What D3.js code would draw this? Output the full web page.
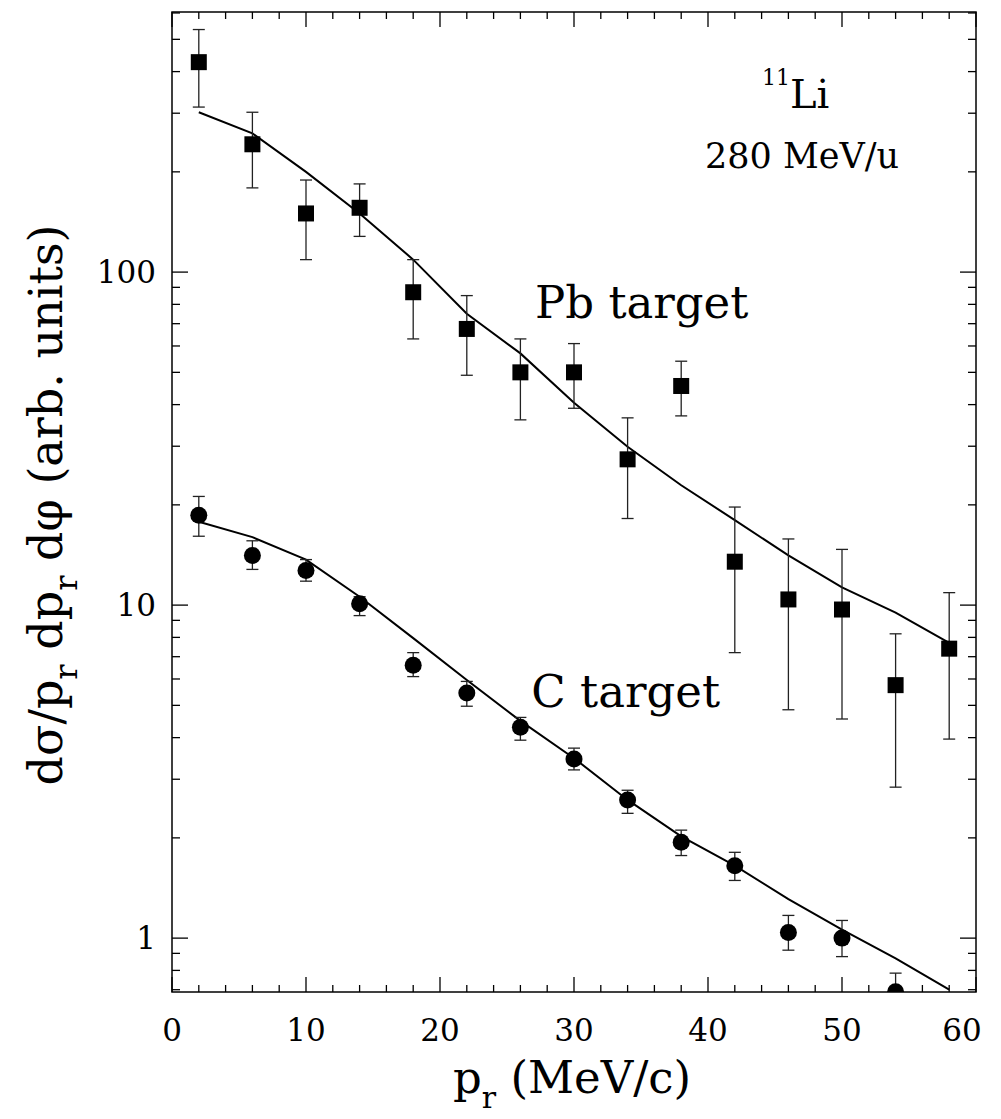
<!DOCTYPE html>
<html>
<head>
<meta charset="utf-8">
<script src="https://cdn.jsdelivr.net/npm/d3@7"></script>
<style>
  body { margin: 0; background: #fff; }
  text { font-family: "DejaVu Serif", "Liberation Serif", serif; fill: #000; }
</style>
</head>
<body>
<div id="chart"></div>
<script>
// momentum values (MeV/c)
var pr = [2, 6, 10, 14, 18, 22, 26, 30, 34, 38, 42, 46, 50, 54, 58];

// Pb target data, error limits and calculation
var pbVal = [427, 242, 150, 156, 87, 67.5, 50, 50, 27.4, 45.5, 13.5, 10.4, 9.7, 5.75, 7.4];
var pbHi  = [535, 302, 189, 184, 109, 85, 63, 61, 36.5, 54, 19.7, 15.8, 14.7, 8.2, 10.9];
var pbLo  = [313, 179, 109, 128, 63, 49, 36, 39, 18.2, 37, 7.2, 4.85, 4.55, 2.84, 3.96];
var pbCalc = [302, 261, 200, 150, 109, 75, 57, 40.5, 29.9, 22.9, 18, 14.1, 11.3, 9.5, 7.7];

// C target data (last point sits on the axis)
var cX   = [2, 6, 10, 14, 18, 22, 26, 30, 34, 38, 42, 46, 50, 54];
var cVal = [18.6, 14.1, 12.7, 10.1, 6.6, 5.45, 4.3, 3.45, 2.6, 1.94, 1.65, 1.04, 1.0, 0.69];
var cHi  = [21.2, 15.6, 13.7, 10.6, 7.2, 5.9, 4.6, 3.72, 2.78, 2.11, 1.81, 1.17, 1.13, 0.785];
var cLo  = [16.1, 12.8, 11.8, 9.3, 6.1, 4.97, 3.93, 3.2, 2.37, 1.77, 1.49, 0.92, 0.88, 0.6];
var cCalc = [17.8, 16.0, 13.7, 10.6, 7.96, 5.96, 4.49, 3.47, 2.6, 2.02, 1.65, 1.31, 1.06, 0.87, 0.70];

var xTicks = [0, 10, 20, 30, 40, 50, 60];
var yTicks = [1, 10, 100];

var W = 1001, H = 1119;
var pL = 172, pR = 976, pT = 12, pB = 992;

var svg = d3.select("#chart").append("svg")
    .attr("width", W)
    .attr("height", H);

var x = d3.scaleLinear().domain([0, 60]).range([pL, pR]);
var y = d3.scaleLog().domain([0.689, 604]).range([pB, pT]);

// clip so points at the bottom get cut by the frame
svg.append("defs").append("clipPath").attr("id", "clip")
    .append("rect")
    .attr("x", pL).attr("y", pT)
    .attr("width", pR - pL).attr("height", pB - pT);

// frame
svg.append("rect")
    .attr("x", pL).attr("y", pT)
    .attr("width", pR - pL).attr("height", pB - pT)
    .attr("fill", "none")
    .attr("stroke", "#000")
    .attr("stroke-width", 1.5);

// ticks, inward on all four sides
var xMinor = d3.range(0, 61, 2);
var yMinor = [];
[0.1, 1, 10, 100].forEach(function (d) {
  for (var k = 1; k < 10; k++) {
    var v = d * k;
    if (v >= 0.689 && v <= 604) yMinor.push(v);
  }
});

var ticks = svg.append("g").attr("stroke", "#000").attr("stroke-width", 1.3);

xMinor.forEach(function (d) {
  var len = (d % 10 == 0) ? 15 : 7;
  ticks.append("line").attr("x1", x(d)).attr("x2", x(d))
      .attr("y1", pB).attr("y2", pB - len);
  ticks.append("line").attr("x1", x(d)).attr("x2", x(d))
      .attr("y1", pT).attr("y2", pT + len);
});

yMinor.forEach(function (d) {
  var major = yTicks.indexOf(Math.round(d * 1000) / 1000) >= 0;
  var len = major ? 16 : 8;
  ticks.append("line").attr("x1", pL).attr("x2", pL + len)
      .attr("y1", y(d)).attr("y2", y(d));
  ticks.append("line").attr("x1", pR).attr("x2", pR - len)
      .attr("y1", y(d)).attr("y2", y(d));
});

// tick labels
svg.append("g").selectAll("text")
    .data(xTicks)
    .enter().append("text")
    .attr("x", function (d) { return x(d) - (d == 60 ? 14 : 0); })
    .attr("y", 1041)
    .attr("text-anchor", "middle")
    .style("font-size", "31px")
    .text(function (d) { return d; });

svg.append("g").selectAll("text")
    .data(yTicks)
    .enter().append("text")
    .attr("x", 156)
    .attr("y", function (d) { return y(d) + 11; })
    .attr("text-anchor", "end")
    .style("font-size", "31px")
    .text(function (d) { return d; });

// axis titles
var xt = svg.append("text")
    .attr("x", 572)
    .attr("y", 1093)
    .attr("text-anchor", "middle")
    .style("font-size", "45px");
xt.append("tspan").text("p");
xt.append("tspan").attr("dy", 15).style("font-size", "30px").text("r");
xt.append("tspan").attr("dy", -15).text(" (MeV/c)");

var yt = svg.append("text")
    .attr("transform", "translate(62,505) rotate(-90)")
    .attr("text-anchor", "middle")
    .style("font-size", "46px");
yt.append("tspan").text("d\u03c3/p");
yt.append("tspan").attr("dy", 15).style("font-size", "32px").text("r");
yt.append("tspan").attr("dy", -15).text(" dp");
yt.append("tspan").attr("dy", 15).style("font-size", "32px").text("r");
yt.append("tspan").attr("dy", -15).text(" d\u03c6 (arb. units)");

// plot body
var plot = svg.append("g").attr("clip-path", "url(#clip)");

var line = d3.line()
    .x(function (d) { return x(d[0]); })
    .y(function (d) { return y(d[1]); });

plot.append("path")
    .datum(d3.zip(pr, pbCalc))
    .attr("d", line)
    .attr("fill", "none")
    .attr("stroke", "#000")
    .attr("stroke-width", 2);

plot.append("path")
    .datum(d3.zip(pr, cCalc))
    .attr("d", line)
    .attr("fill", "none")
    .attr("stroke", "#000")
    .attr("stroke-width", 2);

function errorBars(xs, lo, hi) {
  var g = plot.append("g").attr("stroke", "#222").attr("stroke-width", 1.3);
  xs.forEach(function (d, i) {
    g.append("line").attr("x1", x(d)).attr("x2", x(d))
        .attr("y1", y(lo[i])).attr("y2", y(hi[i]));
    g.append("line").attr("x1", x(d) - 6).attr("x2", x(d) + 6)
        .attr("y1", y(lo[i])).attr("y2", y(lo[i]));
    g.append("line").attr("x1", x(d) - 6).attr("x2", x(d) + 6)
        .attr("y1", y(hi[i])).attr("y2", y(hi[i]));
  });
}

errorBars(pr, pbLo, pbHi);
errorBars(cX, cLo, cHi);

plot.append("g").selectAll("rect")
    .data(d3.zip(pr, pbVal))
    .enter().append("rect")
    .attr("x", function (d) { return x(d[0]) - 8; })
    .attr("y", function (d) { return y(d[1]) - 8; })
    .attr("width", 16)
    .attr("height", 16)
    .attr("fill", "#000");

plot.append("g").selectAll("circle")
    .data(d3.zip(cX, cVal))
    .enter().append("circle")
    .attr("cx", function (d) { return x(d[0]); })
    .attr("cy", function (d) { return y(d[1]); })
    .attr("r", 8.5)
    .attr("fill", "#000");

// annotations
var li = svg.append("text")
    .attr("x", 762)
    .attr("y", 108)
    .attr("text-anchor", "start")
    .style("font-size", "40px");
li.append("tspan").attr("dy", -23).style("font-size", "22px").text("11");
li.append("tspan").attr("dy", 23).text("Li");

svg.append("text")
    .attr("x", 705)
    .attr("y", 168)
    .attr("text-anchor", "start")
    .style("font-size", "35px")
    .text("280 MeV/u");

svg.append("text")
    .attr("x", 535)
    .attr("y", 318)
    .attr("text-anchor", "start")
    .style("font-size", "45px")
    .text("Pb target");

svg.append("text")
    .attr("x", 720)
    .attr("y", 707)
    .attr("text-anchor", "end")
    .style("font-size", "45px")
    .text("C target");
</script>
</body>
</html>
